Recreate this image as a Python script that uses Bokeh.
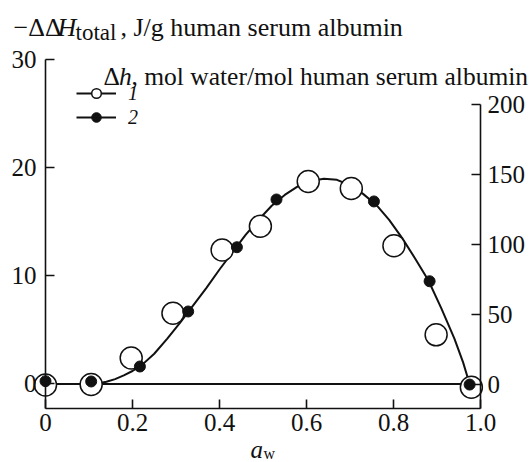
from bokeh.plotting import figure
from bokeh.models import Range1d, LinearAxis, Label, Legend, LegendItem, FixedTicker
from bokeh.embed import file_html
from bokeh.resources import INLINE

# ---- data ----
aw_enthalpy = [0.0, 0.105, 0.197, 0.293, 0.406, 0.494, 0.604, 0.703, 0.801, 0.898, 0.979]
enthalpy = [-0.1, -0.05, 2.4, 6.55, 12.4, 14.6, 18.75, 18.1, 12.8, 4.55, -0.3]   # -ΔΔH_total, J/g

aw_hydration = [0.0, 0.105, 0.217, 0.328, 0.44, 0.531, 0.755, 0.883, 0.975]
hydration = [2.0, 1.8, 12.5, 51.8, 97.7, 131.8, 130.4, 73.4, -0.4]            # Δh, mol/mol

curve_aw = [0.0, 0.05, 0.10, 0.12, 0.14, 0.16, 0.18, 0.20, 0.22, 0.25, 0.28, 0.31, 0.34,
            0.37, 0.40, 0.43, 0.46, 0.49, 0.52, 0.55, 0.58, 0.61, 0.64, 0.67, 0.70, 0.73,
            0.76, 0.79, 0.82, 0.85, 0.88, 0.91, 0.94, 0.96, 0.975]
curve_val = [0.0, 0.0, 0.0, 0.05, 0.2, 0.45, 0.8, 1.2, 1.7, 2.8, 4.2, 5.7, 7.3,
             8.9, 10.6, 12.2, 13.8, 15.2, 16.5, 17.5, 18.3, 18.8, 19.0, 18.9, 18.4, 17.6,
             16.6, 15.2, 13.5, 11.6, 9.6, 7.0, 4.2, 2.0, 0.0]

x_ticks = [0, 0.2, 0.4, 0.6, 0.8, 1.0]
left_ticks = [0, 10, 20, 30]
right_ticks = [0, 50, 100, 150, 200]

FONT = "Liberation Serif"
W, H = 529, 462
# plotting box (pixels) of the axes
BL, BR, BT, BB = 45.0, 480.0, 59.0, 408.0
XA, XB = 0.0, 1.0            # x at left / right axis
YA, YB = -2.27, 30.04        # left-axis values at bottom / top of box
RA, RB = -17.5, 231.8        # right-axis values at bottom / top of box

kx = (XB - XA) / (BR - BL)
ky = (YB - YA) / (BB - BT)
kr = (RB - RA) / (BB - BT)

x_range = Range1d(XA - BL * kx, XB + (W - BR) * kx)
y_range = Range1d(YA - (H - BB) * ky, YB + BT * ky)
r_range = Range1d(RA - (H - BB) * kr, RB + BT * kr)

p = figure(width=W, height=H, x_range=x_range, y_range=y_range,
           output_backend="svg", toolbar_location=None,
           x_axis_location=None, y_axis_location=None,
           min_border=0, min_border_left=0, min_border_right=0,
           min_border_top=0, min_border_bottom=0)
p.extra_y_ranges = {"right": r_range}
p.outline_line_color = None
p.xgrid.visible = False
p.ygrid.visible = False
p.background_fill_color = "white"
p.border_fill_color = "white"


def style_axis(ax, standoff):
    ax.major_tick_in = 9
    ax.major_tick_out = 0
    ax.minor_tick_line_color = None
    ax.axis_line_width = 1.6
    ax.major_tick_line_width = 1.6
    ax.axis_line_color = "#111111"
    ax.major_tick_line_color = "#111111"
    ax.major_label_text_font = FONT
    ax.major_label_text_font_size = "25px"
    ax.major_label_text_color = "#111111"
    ax.major_label_standoff = standoff


xb = LinearAxis(ticker=FixedTicker(ticks=x_ticks), major_label_overrides={0: "0", 1: "1.0"},
                fixed_location=YA, bounds=(XA, XB))
style_axis(xb, 5)
p.add_layout(xb, "below")

yl = LinearAxis(ticker=FixedTicker(ticks=left_ticks), fixed_location=XA, bounds=(YA, 30))
style_axis(yl, 9)
p.add_layout(yl, "left")

yr = LinearAxis(y_range_name="right", ticker=FixedTicker(ticks=right_ticks),
                fixed_location=XB, bounds=(RA, 200))
style_axis(yr, 7)
p.add_layout(yr, "right")

# zero line across the axis box
p.line([x_ticks[0], x_ticks[-1]], [0, 0], line_color="#111111", line_width=2)

curve = p.line(curve_aw, curve_val, line_color="#111111", line_width=2)
open_r = p.scatter(aw_enthalpy, enthalpy, size=22, fill_color="white",
                   line_color="#111111", line_width=1.5)
fill_r = p.scatter(aw_hydration, hydration, y_range_name="right", size=11,
                   fill_color="#111111", line_color="#111111")

legend = Legend(items=[LegendItem(label="1", renderers=[curve, open_r]),
                       LegendItem(label="2", renderers=[curve, fill_r])],
                location=(76, H - 129), glyph_width=40, glyph_height=24, label_height=24,
                spacing=0, padding=0, margin=0, label_standoff=12,
                border_line_color=None, background_fill_alpha=0,
                label_text_font=FONT, label_text_font_style="italic",
                label_text_font_size="20px", label_text_color="#111111")
p.add_layout(legend)


# helpers converting canvas pixel positions of text into data coordinates
def dx(px):
    return XA + (px - BL) * kx


def dy(py):
    return YB - (py - BT) * ky


def txt(s, px, py, size="25px", style="normal"):
    p.add_layout(Label(x=dx(px), y=dy(py), text=s, text_font=FONT, text_font_size=size,
                       text_font_style=style, text_baseline="alphabetic",
                       text_color="#111111"))


# top-left axis title
txt("\u2212\u0394\u0394", 13, 27, size="26px")
txt("H", 57, 27, size="26px", style="italic")
txt("total", 75, 32, size="23px")
txt(", J/g human serum albumin", 120, 27, size="26px")

# right-axis title
txt("\u0394", 103, 76, size="25.5px")
txt("h", 118.5, 76, size="25.5px", style="italic")
txt(", mol water/mol human serum albumin", 131, 76, size="25.5px")

# x-axis title
txt("a", 250, 449, style="italic")
txt("w", 263, 453, size="16px")

open("out.html", "w").write(file_html(p, INLINE))
